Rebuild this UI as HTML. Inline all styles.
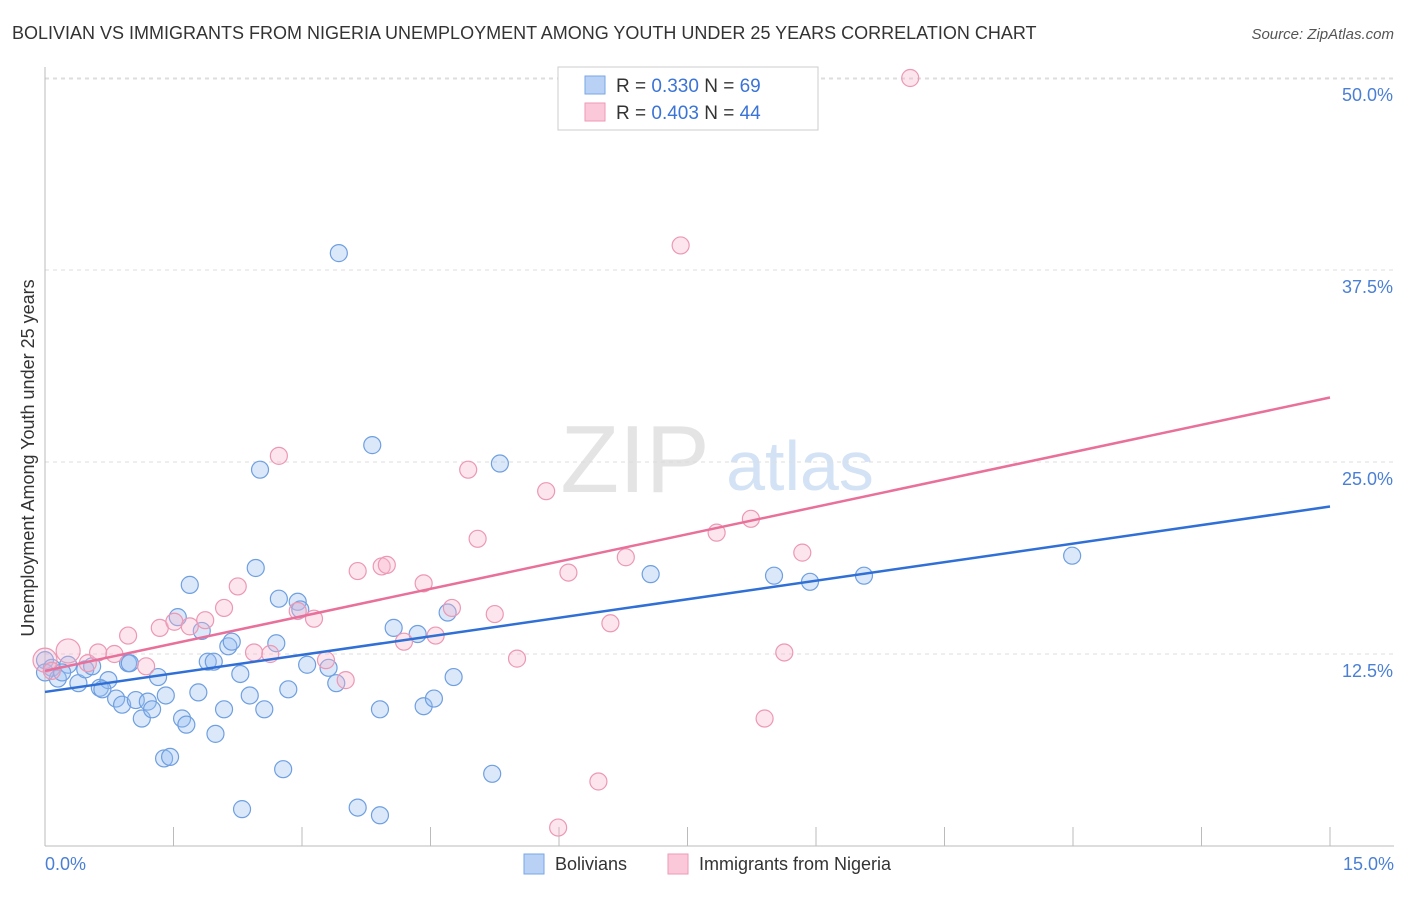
<!DOCTYPE html>
<html><head><meta charset="utf-8"><style>
body{margin:0;background:#fff;font-family:"Liberation Sans",sans-serif;}
svg text{font-family:"Liberation Sans",sans-serif;}
</style></head><body>
<svg width="1406" height="892">
<text x="12" y="39" font-size="18" fill="#333">BOLIVIAN VS IMMIGRANTS FROM NIGERIA UNEMPLOYMENT AMONG YOUTH UNDER 25 YEARS CORRELATION CHART</text>
<text x="1394" y="39" font-size="15" fill="#555" text-anchor="end" font-style="italic">Source: ZipAtlas.com</text>
<text x="635" y="492" font-size="96" fill="#e4e4e4" font-family="Liberation Serif" text-anchor="middle">ZIP</text>
<text x="800" y="490" font-size="70" fill="#d4e2f5" text-anchor="middle">atlas</text>
<g id="grid"></g><g id="axes"></g><g id="pts"></g><g id="lines"></g>
<text transform="translate(34,458) rotate(-90)" font-size="18" fill="#333" text-anchor="middle">Unemployment Among Youth under 25 years</text>
<text x="45" y="870" font-size="18" fill="#4a7fd4">0.0%</text>
<text x="1394" y="870" font-size="18" fill="#4a7fd4" text-anchor="end">15.0%</text>
<g>
<rect x="558" y="67" width="260" height="63" fill="#fff" stroke="#ccc"/>
<rect x="585" y="76" width="20" height="18" fill="#b8d1f5" stroke="#7aa6e6"/>
<rect x="585" y="103" width="20" height="18" fill="#fac8d8" stroke="#ee9ab6"/>
<text x="616" y="92" font-size="19" fill="#333">R = <tspan fill="#3a74d6">0.330</tspan>   N = <tspan fill="#3a74d6">69</tspan></text>
<text x="616" y="119" font-size="19" fill="#333">R = <tspan fill="#3a74d6">0.403</tspan>   N = <tspan fill="#3a74d6">44</tspan></text>
</g>
<g>
<rect x="524" y="854" width="20" height="20" fill="#b8d1f5" stroke="#7aa6e6"/>
<text x="555" y="870" font-size="18" fill="#333">Bolivians</text>
<rect x="668" y="854" width="20" height="20" fill="#fac8d8" stroke="#ee9ab6"/>
<text x="699" y="870" font-size="18" fill="#333">Immigrants from Nigeria</text>
</g>
</svg>
<script>
const yTicks=[12.5,25,37.5,50];
const yTickLabels=["12.5%","25.0%","37.5%","50.0%"];
const xTicks=[0,1.5,3,4.5,6,7.5,9,10.5,12,13.5,15];
const blueX=[0,0.08,0.15,0.27,0.39,0.47,0.55,0.64,0.74,0.83,0.9,0.97,1.06,1.13,1.2,1.25,1.32,1.39,1.46,1.41,1.55,1.6,1.65,1.69,1.79,1.83,1.9,1.97,1.99,2.09,2.14,2.18,2.28,2.3,2.39,2.46,2.51,2.56,2.7,2.73,2.78,2.84,2.95,3.06,3.31,3.4,3.43,3.65,3.82,3.91,3.91,4.07,4.35,4.42,4.54,4.7,4.77,5.22,5.31,7.07,8.51,8.93,9.56,11.99,0,0.2,0.67,0.99,2.98];
const blueY=[12.1,11.6,10.9,11.8,10.6,11.5,11.7,10.3,10.8,9.6,9.2,11.9,9.5,8.3,9.4,8.9,11.0,5.7,5.8,9.8,14.9,8.3,7.9,17.0,10.0,14.0,12.0,12.0,7.3,8.9,13.0,13.3,11.2,2.4,9.8,18.1,24.5,8.9,13.2,16.1,5.0,10.2,15.9,11.8,11.6,10.6,38.6,2.5,26.1,2.0,8.9,14.2,13.8,9.1,9.6,15.2,11.0,4.7,24.9,17.7,17.6,17.2,17.6,18.9,11.3,11.3,10.2,11.9,15.4];
const pinkX=[0,0.27,0.08,0.5,0.62,0.81,0.97,1.18,1.34,1.51,1.69,1.87,2.09,2.25,2.44,2.63,2.73,2.95,3.14,3.28,3.51,3.65,3.93,3.99,4.19,4.42,4.56,4.75,4.94,5.05,5.25,5.51,5.85,5.99,6.11,6.46,6.6,6.78,7.42,7.84,8.24,8.4,8.63,8.84,10.1];
const pinkY=[12.1,12.7,11.4,11.9,12.6,12.5,13.7,11.7,14.2,14.6,14.3,14.7,15.5,16.9,12.6,12.5,25.4,15.3,14.8,12.1,10.8,17.9,18.2,18.3,13.3,17.1,13.7,15.5,24.5,20.0,15.1,12.2,23.1,1.2,17.8,4.2,14.5,18.8,39.1,20.4,21.3,8.3,12.6,19.1,50.0];
const bigPink=[0,1];
const blueLine=[10.03,22.1], pinkLine=[11.4,29.2];
const NS="http://www.w3.org/2000/svg";
const sx=v=>45+v*(1285/15), sy=v=>846-v*15.36;
function mk(parent,tag,attrs){const e=document.createElementNS(NS,tag);for(const k in attrs)e.setAttribute(k,attrs[k]);document.getElementById(parent).appendChild(e);return e;}
yTicks.forEach((t,i)=>{
 let l=mk('grid','line',{x1:45,x2:1394,y1:sy(t),y2:sy(t),stroke:'#ddd','stroke-dasharray':'4,4'});
 
 
 let tx=mk('grid','text',{x:1393,y:sy(t)+23,'font-size':18,fill:'#4a7fd4','text-anchor':'end'});
 tx.textContent=yTickLabels[i];
 
 
});
let tl=mk('grid','line',{x1:45,x2:1394,y1:79,y2:79,stroke:'#ddd','stroke-dasharray':'4,4'});


let ya=mk('axes','line',{x1:45,x2:45,y1:67,y2:846,stroke:'#bbb'});


let xa=mk('axes','line',{x1:45,x2:1394,y1:846,y2:846,stroke:'#bbb'});


xTicks.forEach(t=>{let l=mk('axes','line',{x1:sx(t),x2:sx(t),y1:827,y2:846,stroke:'#bbb'});
 
 });
blueX.forEach((x,i)=>{let c=mk('pts','circle',{cx:sx(x),cy:sy(blueY[i]),r:8.5,fill:'rgba(150,188,240,0.35)',stroke:'#6f9fe0','stroke-width':1.2});
 
 });
pinkX.forEach((x,i)=>{let c=mk('pts','circle',{cx:sx(x),cy:sy(pinkY[i]),r:bigPink.includes(i)?12:8.5,fill:'rgba(248,180,202,0.35)',stroke:'#ec98b4','stroke-width':1.2});
 
 });
let bl=mk('lines','line',{x1:sx(0),x2:sx(15),y1:sy(blueLine[0]),y2:sy(blueLine[1]),stroke:'#2f6fd6','stroke-width':2.5});


let pl=mk('lines','line',{x1:sx(0),x2:sx(15),y1:sy(pinkLine[0]),y2:sy(pinkLine[1]),stroke:'#e8709a','stroke-width':2.5});


</script>
</body></html>
